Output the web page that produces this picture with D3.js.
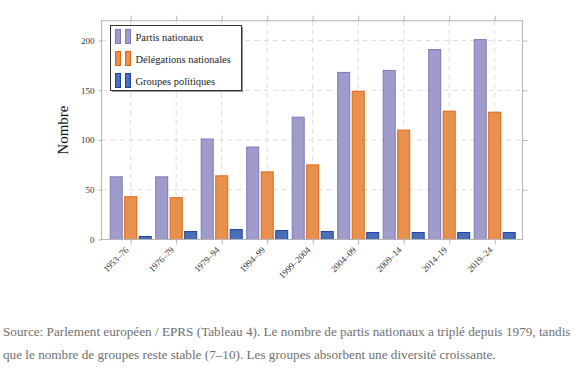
<!DOCTYPE html>
<html>
<head>
<meta charset="utf-8">
<script src="https://cdn.jsdelivr.net/npm/d3@7"></script>
<style>
  body { margin: 0; background: #fff; }
  svg text { font-family: "Liberation Serif", "DejaVu Serif", serif; }
</style>
</head>
<body>
<div id="chart"></div>
<script>
// data
var periods = ["1953–76", "1976–79", "1979–94", "1994–99", "1999–2004", "2004–09", "2009–14", "2014–19", "2019–24"];
var partis = [63, 63, 101, 93, 123, 168, 170, 191, 201];
var delegations = [43, 42, 64, 68, 75, 149, 110, 129, 128];
var groupes = [3, 8, 10, 9, 8, 7, 7, 7, 7];
var seriesNames = ["Partis nationaux", "Délégations nationales", "Groupes politiques"];
var yTicks = [0, 50, 100, 150, 200];

var fills = ["#9f9bca", "#e8904d", "#4a6fb8"];
var strokes = ["#7d78b8", "#e0650f", "#1f41a0"];

var W = 576, H = 374;
var plot = { left: 101.5, right: 522.5, top: 20.7, bottom: 239.5 };
var serif = "'Liberation Serif', 'DejaVu Serif', serif";

var svg = d3.select("#chart").append("svg")
  .attr("width", W)
  .attr("height", H)
  .attr("font-family", serif)
  .style("display", "block");

var x = d3.scalePoint()
  .domain(periods)
  .range([130.7, 494.7]);

var xs = d3.scalePoint()
  .domain(seriesNames)
  .range([-14.5, 14.5]);

var y = d3.scaleLinear()
  .domain([0, 220])
  .range([plot.bottom, plot.top]);

var barW = 12;

// grid
var grid = svg.append("g");
grid.selectAll(".hg")
  .data(yTicks.filter(d => d > 0))
  .enter().append("line")
    .attr("x1", plot.left).attr("x2", plot.right)
    .attr("y1", d => y(d)).attr("y2", d => y(d))
    .attr("stroke", "#dcdcdc")
    .attr("stroke-dasharray", "5,4");
grid.selectAll(".vg")
  .data(periods)
  .enter().append("line")
    .attr("x1", d => x(d)).attr("x2", d => x(d))
    .attr("y1", plot.top).attr("y2", plot.bottom)
    .attr("stroke", "#dcdcdc")
    .attr("stroke-dasharray", "5,4");

// bars
var seriesData = [partis, delegations, groupes];
seriesData.forEach(function(vals, s) {
  svg.append("g").selectAll("rect")
    .data(vals)
    .enter().append("rect")
      .attr("x", (d, i) => x(periods[i]) + xs(seriesNames[s]) - barW / 2)
      .attr("y", d => y(d))
      .attr("width", barW)
      .attr("height", d => plot.bottom - y(d))
      .attr("fill", fills[s])
      .attr("stroke", strokes[s])
      .attr("stroke-width", 1);
});

// frame
svg.append("rect")
  .attr("x", plot.left).attr("y", plot.top)
  .attr("width", plot.right - plot.left).attr("height", plot.bottom - plot.top)
  .attr("fill", "none")
  .attr("stroke", "#b5b5b5");

// axes
var xAxis = svg.append("g")
  .attr("transform", "translate(0," + plot.bottom + ")")
  .call(d3.axisBottom(x).tickSize(5).tickSizeOuter(0))
  .attr("font-family", serif);
xAxis.select(".domain").remove();
xAxis.selectAll("line").attr("stroke", "#b5b5b5");
xAxis.selectAll("text")
  .attr("font-size", 9)
  .attr("fill", "#333")
  .attr("text-anchor", "end")
  .attr("dy", null)
  .attr("y", 0)
  .attr("transform", "translate(-2,11) rotate(-45)");

var xTop = svg.append("g")
  .attr("transform", "translate(0," + plot.top + ")")
  .call(d3.axisTop(x).tickSize(5).tickFormat(""));
xTop.select(".domain").remove();
xTop.selectAll("line").attr("stroke", "#b5b5b5");

var yAxis = svg.append("g")
  .attr("transform", "translate(" + plot.left + ",0)")
  .call(d3.axisLeft(y).tickValues(yTicks).tickSize(3).tickPadding(4))
  .attr("font-family", serif);
yAxis.select(".domain").remove();
yAxis.selectAll("line").attr("stroke", "#b5b5b5");
yAxis.selectAll("text").attr("font-size", 9).attr("fill", "#333");

var yRight = svg.append("g")
  .attr("transform", "translate(" + plot.right + ",0)")
  .call(d3.axisLeft(y).tickValues(yTicks.filter(d => d > 0)).tickSize(-5).tickFormat(""));
yRight.select(".domain").remove();
yRight.selectAll("line").attr("stroke", "#b5b5b5");

// y label
svg.append("text")
  .attr("transform", "translate(68," + ((plot.top + plot.bottom) / 2) + ") rotate(-90)")
  .attr("text-anchor", "middle")
  .attr("font-size", 15)
  .attr("fill", "#111")
  .text("Nombre");

// legend
var lg = svg.append("g").attr("transform", "translate(110.5,25.5)");
lg.append("rect")
  .attr("x", 1.5).attr("y", 1.5)
  .attr("width", 131).attr("height", 65)
  .attr("fill", "#999");
lg.append("rect")
  .attr("width", 131).attr("height", 65)
  .attr("fill", "#fff")
  .attr("stroke", "#333");
seriesNames.forEach(function(name, s) {
  var row = lg.append("g").attr("transform", "translate(0," + (4 + s * 22) + ")");
  [5, 15].forEach(function(ix) {
    row.append("rect")
      .attr("x", ix).attr("y", 0)
      .attr("width", 5).attr("height", 14)
      .attr("fill", fills[s])
      .attr("stroke", strokes[s]);
  });
  row.append("text")
    .attr("x", 25).attr("y", 11)
    .attr("font-family", serif)
    .attr("font-size", 10.5)
    .attr("fill", "#222")
    .text(name);
});

// caption
var caption = [
  "Source: Parlement européen / EPRS (Tableau 4). Le nombre de partis nationaux a triplé depuis 1979, tandis",
  "que le nombre de groupes reste stable (7–10). Les groupes absorbent une diversité croissante."
];
svg.append("g").selectAll("text")
  .data(caption)
  .enter().append("text")
    .attr("x", 3)
    .attr("y", (d, i) => 336 + i * 23)
    .attr("font-family", serif)
    .attr("font-size", 13.2)
    .attr("fill", "#6f6f6f")
    .text(d => d);
</script>
</body>
</html>
